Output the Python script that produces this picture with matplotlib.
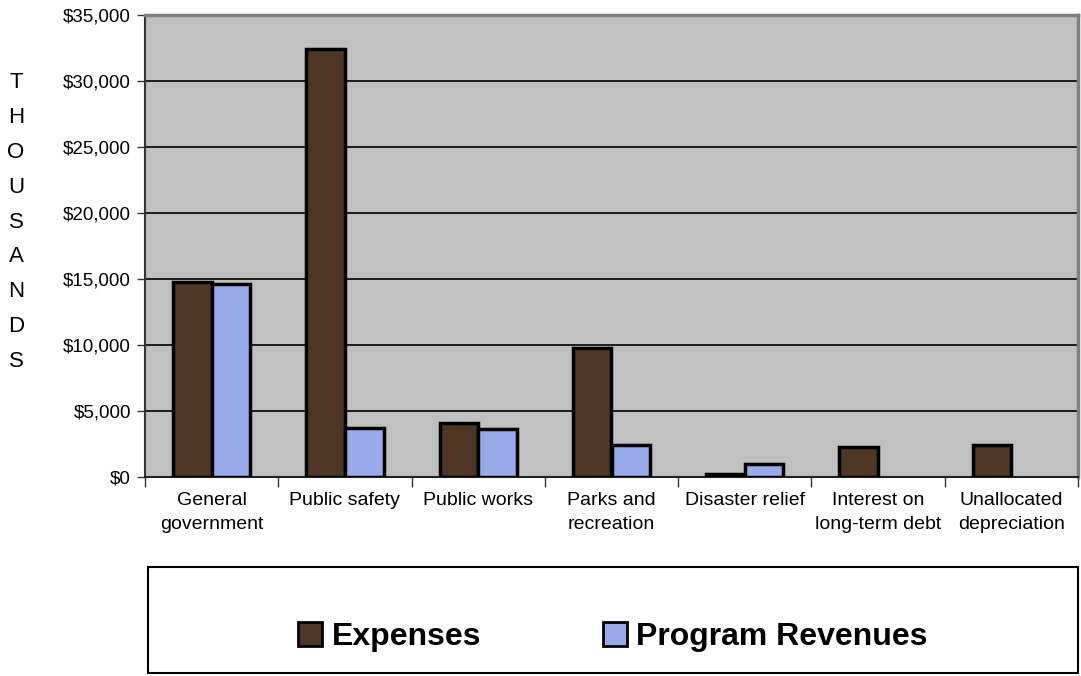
import matplotlib
matplotlib.use('Agg')
import matplotlib.pyplot as plt
from matplotlib.patches import Rectangle, Patch
import numpy as np

plt.rcParams['font.family'] = ['Liberation Sans', 'DejaVu Sans']

categories = ['General\ngovernment', 'Public safety', 'Public works', 'Parks and\nrecreation',
              'Disaster relief', 'Interest on\nlong-term debt', 'Unallocated\ndepreciation']
expenses = [14750, 32400, 4100, 9750, 250, 2250, 2450]
revenues = [14600, 3700, 3600, 2400, 1000, 0, 0]
y_ticks = [0, 5000, 10000, 15000, 20000, 25000, 30000, 35000]

brown = '#4f3524'
blue = '#99aaea'
bg = '#c0c0c0'

fig = plt.figure(figsize=(10.81, 6.76), dpi=100)
ax = fig.add_axes([145 / 1081, 1 - 477 / 676, (1078 - 145) / 1081, (477 - 15) / 676])
ax.set_facecolor(bg)

x = np.arange(len(categories))
w = 0.29
ax.bar(x - w / 2, expenses, w, color=brown, edgecolor='black', linewidth=2.5, zorder=3)
rev_x = [xi + w / 2 for xi, v in zip(x, revenues) if v > 0]
rev_v = [v for v in revenues if v > 0]
ax.bar(rev_x, rev_v, w, color=blue, edgecolor='black', linewidth=2.5, zorder=3)

ax.set_xlim(-0.5, len(categories) - 0.5)
ax.set_ylim(0, 35000)
ax.set_yticks(y_ticks)
ax.set_yticklabels(['${:,}'.format(v) for v in y_ticks], fontsize=13.5)
ax.yaxis.grid(True, color='black', linewidth=1.2, zorder=0)
ax.set_axisbelow(True)

# category boundaries as major ticks, labels on minor ticks
ax.set_xticks(np.arange(len(categories) + 1) - 0.5)
ax.set_xticklabels([])
ax.set_xticks(x, minor=True)
ax.set_xticklabels(categories, minor=True, fontsize=14, linespacing=1.55)
ax.tick_params(axis='x', which='major', length=7, width=1, color='#333333')
ax.tick_params(axis='x', which='minor', length=0, pad=11)
ax.tick_params(axis='y', length=6, width=1, color='#333333', pad=4)

ax.spines['top'].set_color('#808080')
ax.spines['top'].set_linewidth(2.5)
ax.spines['right'].set_color('#808080')
ax.spines['right'].set_linewidth(2.5)
ax.spines['left'].set_color('#333333')
ax.spines['left'].set_linewidth(1.5)
ax.spines['bottom'].set_color('#222222')
ax.spines['bottom'].set_linewidth(1.5)

fig.text(16 / 1081, 1 - 222 / 676, '\n'.join('THOUSANDS'), ha='center', va='center',
         fontsize=16, linespacing=1.86)

# legend box
fig.patches.append(Rectangle((148 / 1081, 3 / 676), (1078 - 148) / 1081, (673 - 567) / 676,
                             transform=fig.transFigure, facecolor='white', edgecolor='black',
                             linewidth=1.5))
handles = [Patch(facecolor=brown, edgecolor='black', linewidth=2, label='Expenses'),
           Patch(facecolor=blue, edgecolor='black', linewidth=2, label='Program Revenues')]
fig.legend(handles=handles, loc='center', bbox_to_anchor=(613 / 1081, 1 - 637 / 676), ncol=2,
           frameon=False, prop={'size': 23, 'weight': 'bold'}, handlelength=0.75,
           handleheight=0.75, handletextpad=0.3, columnspacing=3.8)

fig.savefig('out.png', dpi=100)
